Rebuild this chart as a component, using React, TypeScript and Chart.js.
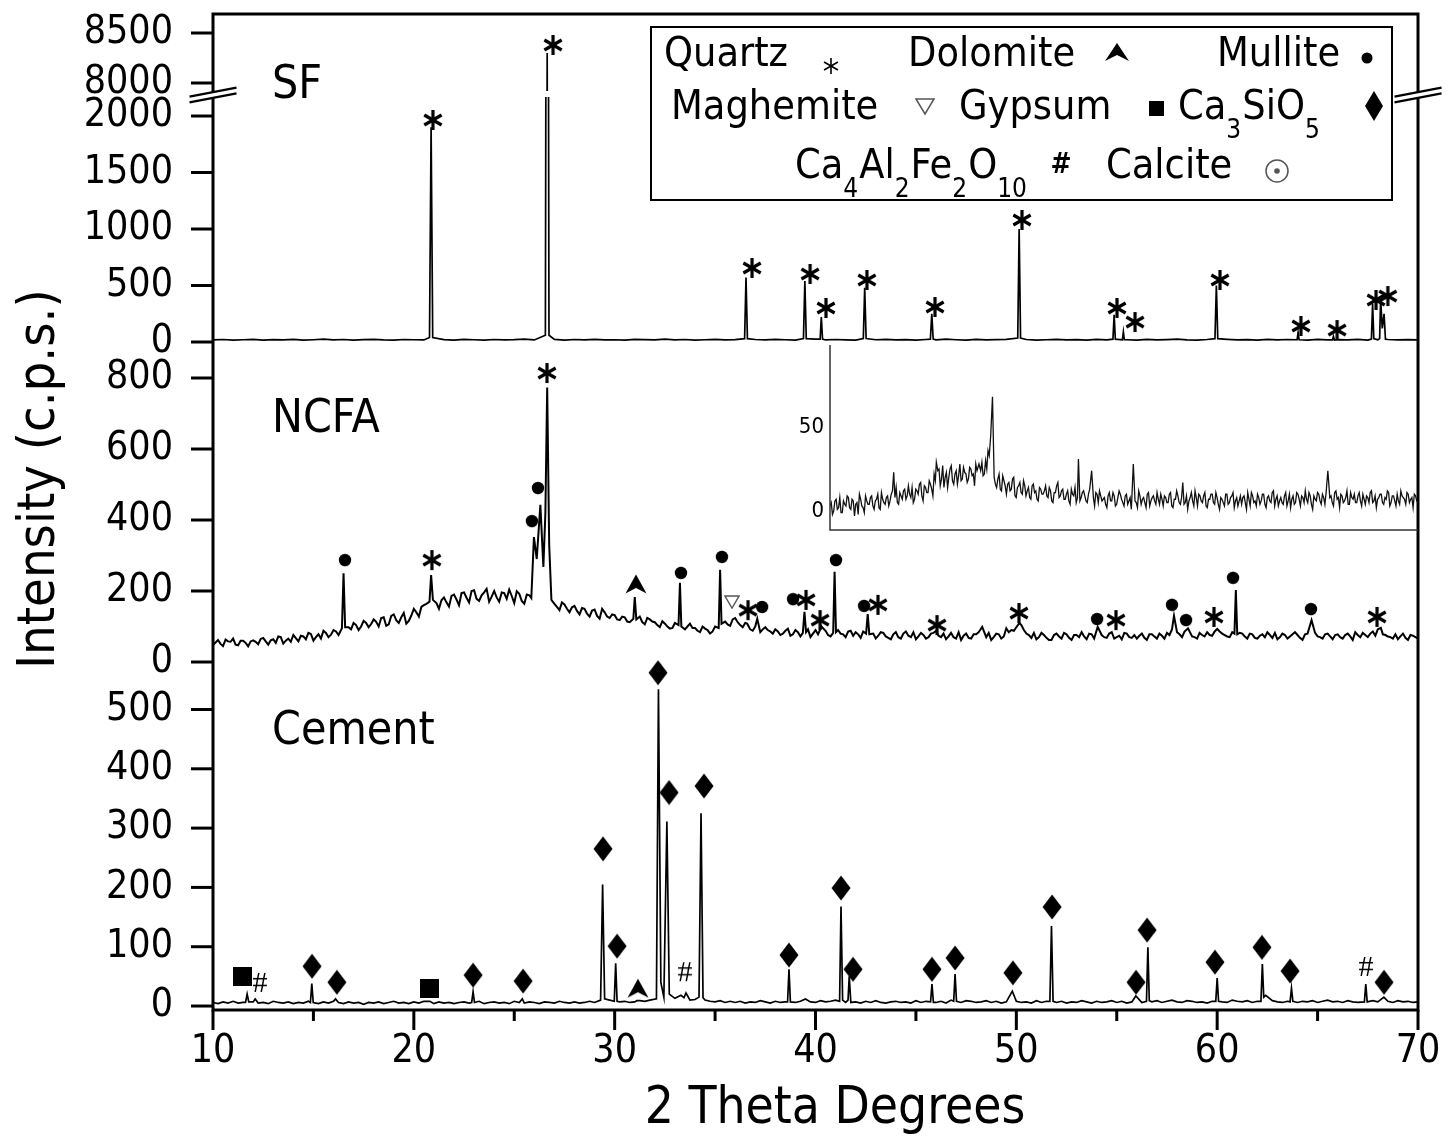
import React, { useEffect, useRef } from "react";
import { Chart, registerables } from "chart.js";

Chart.register(...registerables);

const FONT = '"DejaVu Sans Condensed", "DejaVu Sans", sans-serif';

// ---------- axes ----------
const X_MIN = 10;
const X_MAX = 70;
const X_TICKS = [10, 20, 30, 40, 50, 60, 70];
const X_MINOR = [15, 25, 35, 45, 55, 65];
const CEM_TICKS = [0, 100, 200, 300, 400, 500];
const NCFA_TICKS = [0, 200, 400, 600, 800];
const SF_LO_TICKS = [0, 500, 1000, 1500, 2000];
const SF_HI_TICKS = [8000, 8500];
const INSET_TICKS = [0, 50];

// ---------- SF (baseline every 0.5 deg from 10) ----------
const sfStep = 0.5;
const sfBase = [
  18, 22, 16, 20, 24, 17, 21, 19, 23, 16,
  20, 25, 18, 22, 17, 21, 24, 19, 16, 22,
  20, 18, 23, 21, 17, 24, 20, 16, 22, 19,
  21, 25, 18, 20, 23, 17, 22, 19, 24, 18,
  20, 16, 23, 21, 18, 25, 19, 22, 17, 20,
  24, 18, 21, 16, 22, 19, 23, 20, 17, 21,
  25, 18, 22, 19, 16, 23, 20, 24, 18, 21,
  17, 22, 19, 25, 20, 16, 23, 18, 21, 24,
  19, 22, 17, 20, 23, 18, 21, 16, 24, 19,
  22, 20, 17, 23, 18, 21, 25, 19, 16, 22,
  20, 24, 18, 21, 17, 23, 19, 22, 20, 16,
  24, 18, 21, 19, 23, 17, 20, 22, 18, 21,
  19,
];
const sfPeakX = [
  20.78, 20.86, 20.94, 26.55, 26.64, 26.73, 36.47, 36.54, 36.61, 39.4, 39.47, 39.54,
  40.23, 40.29, 40.35, 42.38, 42.45, 42.52, 45.72, 45.79, 45.86, 50.07, 50.14, 50.21,
  54.81, 54.87, 54.93, 55.28, 55.33, 55.38, 59.89, 59.96, 60.03, 63.98, 64.03, 64.08,
  65.74, 65.79, 65.84, 67.68, 67.74, 67.8, 68.09, 68.14, 68.22, 68.31, 68.38,
];
const sfPeakY = [
  40, 1900, 40, 60, 8300, 60, 30, 570, 30, 30, 540, 30,
  25, 220, 25, 30, 480, 30, 25, 250, 25, 35, 1000, 35,
  25, 240, 25, 20, 90, 20, 30, 500, 30, 20, 85, 20,
  18, 50, 18, 25, 335, 30, 30, 380, 120, 250, 25,
];
const sfStarX = [20.95, 36.84, 39.73, 40.52, 42.56, 45.95, 50.28, 55.01, 55.91, 60.14, 64.17, 65.97, 67.91, 68.5];
const sfStarY = [1965, 655, 602, 301, 549, 310, 1080, 301, 177, 549, 142, 106, 372, 407];
const sfStarTopX = [26.93];
const sfStarTopY = [8380];

// ---------- NCFA (readings every 0.25 deg from 10, and from 10.125) ----------
const ncfaStep = 0.25;
const ncfaBase = [
  48, 62, 45, 58, 66, 47, 60, 44,
  61, 50, 68, 49, 64, 72, 52, 66,
  76, 58, 72, 82, 60, 78, 88, 70,
  90, 76, 92, 98, 110, 90, 116, 98,
  120, 100, 126, 106, 134, 110, 138, 116,
  150, 128, 160, 168, 176, 150, 182, 156,
  190, 160, 196, 168, 202, 172, 196, 170,
  200, 170, 194, 204, 166, 192, 164, 188,
  180, 170, 175, 165, 164, 146, 162, 140,
  158, 134, 150, 128, 148, 122, 140, 124,
  132, 118, 126, 112, 120, 128, 106, 120,
  112, 98, 108, 94, 110, 100, 92, 108,
  96, 84, 94, 80, 100, 100, 114, 102,
  124, 104, 110, 92, 100, 84, 98, 86,
  92, 76, 88, 74, 90, 72, 86, 70,
  90, 74, 88, 72, 84, 80, 70, 88,
  84, 68, 88, 74, 66, 84, 72, 64,
  84, 66, 86, 70, 64, 82, 66, 80,
  88, 70, 64, 82, 66, 62, 80, 66,
  78, 90, 70, 62, 80, 66, 76, 90,
  98, 104, 80, 68, 64, 82, 68, 62,
  80, 66, 78, 62, 76, 84, 64, 78,
  90, 76, 68, 84, 70, 64, 80, 68,
  66, 80, 62, 78, 66, 74, 82, 92,
  84, 70, 92, 72, 66, 76, 84, 74,
  94, 80, 72, 84, 68, 80, 66, 78,
  66, 78, 84, 68, 64, 80, 66, 78,
  76, 62, 80, 90, 72, 66, 80, 64,
  78, 66, 80, 62, 76, 82, 70, 86,
  92, 78, 72, 66, 64, 80, 62, 74,
  66,
];
const ncfaBaseMid = [
  55, 51, 63, 57, 49, 60, 54, 58,
  57, 65, 58, 61, 54, 70, 60, 57,
  67, 74, 64, 79, 70, 66, 82, 77,
  86, 88, 100, 92, 104, 100, 110, 107,
  113, 124, 102, 130, 118, 126, 108, 131,
  140, 155, 164, 170, 166, 174, 168, 186,
  176, 194, 181, 200, 178, 188, 206, 184,
  182, 196, 178, 186, 199, 172, 190, 176,
  180, 175, 170, 168, 155, 168, 150, 154,
  144, 152, 136, 145, 130, 150, 128, 134,
  120, 128, 114, 132, 118, 112, 124, 114,
  104, 115, 100, 96, 112, 104, 100, 96,
  88, 100, 90, 86, 96, 108, 106, 120,
  112, 98, 106, 88, 104, 92, 90, 80,
  86, 80, 94, 78, 84, 80, 92, 80,
  78, 86, 76, 80, 90, 78, 86, 74,
  78, 86, 70, 80, 74, 82, 68, 78,
  70, 80, 74, 84, 72, 76, 70, 82,
  74, 80, 72, 70, 84, 74, 68, 78,
  84, 76, 82, 70, 78, 72, 84, 88,
  104, 90, 76, 82, 70, 76, 62, 76,
  72, 82, 68, 76, 70, 72, 80, 66,
  86, 70, 80, 66, 74, 82, 70, 76,
  74, 68, 78, 72, 80, 66, 76, 84,
  78, 86, 80, 70, 82, 72, 76, 86,
  86, 76, 70, 88, 82, 72, 80, 68,
  74, 70, 76, 82, 70, 76, 72, 84,
  68, 78, 86, 82, 70, 78, 72, 76,
  70, 76, 72, 84, 70, 76, 80, 74,
  84, 76, 70, 78, 72, 68, 76, 70,
];
const ncfaPeakX = [
  16.42, 16.5, 16.58, 20.78, 20.86, 20.95,
  25.85, 25.98, 26.12, 26.3, 26.45, 26.55, 26.64, 26.74, 26.85,
  30.93, 31.0, 31.08, 33.18, 33.25, 33.32, 35.18, 35.25, 35.32,
  36.6, 37.1, 39.37, 39.45, 39.53, 40.3, 40.88, 40.95, 41.02,
  42.52, 42.6, 42.68, 48.3, 49.5, 50.15, 54.05, 57.85, 58.55, 60.0,
  60.86, 60.93, 61.0, 64.7, 68.15,
];
const ncfaPeakY = [
  95, 250, 98, 170, 245, 175,
  180, 352, 290, 443, 268, 420, 773, 330, 175,
  122, 183, 120, 104, 223, 100, 96, 260, 108,
  108, 122, 82, 141, 84, 100, 82, 254, 84,
  80, 135, 78, 99, 95, 110, 99, 130, 95, 93,
  80, 203, 78, 118, 96,
];
const ncfaStarX = [20.9, 26.63, 36.64, 39.53, 40.23, 43.11, 46.05, 50.13, 54.96, 59.84, 67.96];
const ncfaStarY = [287, 814, 146, 175, 118, 161, 104, 138, 118, 127, 127];
const ncfaDotX = [16.57, 25.88, 26.18, 33.3, 35.34, 37.34, 38.88, 41.02, 42.42, 54.02, 57.75, 58.45, 60.79, 64.67];
const ncfaDotY = [287, 397, 490, 251, 296, 155, 177, 287, 158, 121, 161, 118, 237, 149];
const ncfaTriX = [31.06];
const ncfaTriY = [220];
const ncfaGypX = [35.84];
const ncfaGypY = [169];

// ---------- Cement (baseline every 0.25 deg from 10) ----------
const cemStep = 0.25;
const cemBase = [
  6, 4, 7, 5, 8, 5, 6, 3,
  7, 5, 6, 4, 8, 6, 5, 7,
  4, 6, 5, 8, 6, 4, 7, 5,
  8, 6, 4, 7, 5, 6, 3, 6,
  5, 7, 4, 6, 8, 5, 6, 4,
  7, 5, 8, 6, 4, 7, 5, 6,
  4, 6, 7, 5, 6, 8, 4, 6,
  7, 5, 6, 4, 8, 6, 5, 7,
  6, 4, 7, 6, 5, 8, 6, 5,
  7, 5, 6, 8, 6, 9, 7, 10,
  9, 7, 8, 6, 7, 9, 8, 10,
  12, 9, 14, 11, 13, 16, 12, 10,
  11, 9, 10, 8, 7, 9, 6, 8,
  6, 8, 5, 7, 6, 9, 7, 5,
  8, 6, 7, 10, 6, 8, 12, 7,
  6, 9, 7, 8, 10, 7, 6, 9,
  7, 5, 8, 6, 9, 6, 5, 7,
  8, 6, 7, 5, 9, 6, 8, 7,
  6, 8, 5, 10, 7, 6, 9, 8,
  6, 7, 9, 6, 8, 5, 7, 6,
  8, 6, 7, 5, 9, 6, 8, 7,
  6, 8, 5, 7, 6, 9, 7, 5,
  8, 6, 7, 9, 6, 8, 5, 7,
  10, 6, 8, 7, 9, 6, 8, 10,
  7, 6, 9, 8, 6, 7, 5, 8,
  9, 7, 6, 10, 8, 7, 9, 6,
  8, 10, 14, 9, 7, 6, 8, 7,
  6, 8, 7, 9, 6, 8, 10, 7,
  8, 6, 9, 7, 6, 8, 7, 9,
  7, 10, 8, 6, 9, 7, 8, 6,
  7,
];
const cemPeakX = [
  11.62, 11.7, 11.78, 12.1, 14.85, 14.92, 14.99, 16.1, 20.8, 22.88, 22.95, 23.02, 25.4,
  29.3, 29.4, 29.5, 29.98, 30.05, 30.12, 31.1,
  32.08, 32.18, 32.3, 32.45, 32.6, 32.72, 33.3, 33.45, 33.55, 34.2, 34.3, 34.4,
  38.61, 38.68, 38.75, 41.2, 41.27, 41.35, 41.62, 41.68, 41.76, 45.73, 45.8, 45.87,
  46.88, 46.95, 47.02, 49.8, 51.67, 51.75, 51.83, 55.95, 56.48, 56.55, 56.62,
  59.93, 60.0, 60.07, 62.18, 62.25, 62.32, 62.42, 63.63, 63.7, 63.77, 67.33, 67.4, 67.47, 68.3,
];
const cemPeakY = [
  6, 20, 7, 12, 6, 38, 6, 12, 8, 6, 24, 6, 12,
  10, 205, 12, 8, 72, 8, 9,
  12, 534, 40, 15, 311, 20, 18, 14, 22, 15, 325, 14,
  7, 62, 7, 8, 168, 10, 10, 50, 6, 7, 37, 6,
  8, 54, 8, 25, 8, 135, 8, 17, 8, 99, 9,
  8, 47, 8, 8, 71, 15, 18, 7, 30, 8, 7, 37, 7, 15,
];
const cemDiaX = [14.93, 16.17, 22.95, 25.44, 29.42, 30.12, 32.16, 32.71, 34.45, 38.68, 41.27, 41.87, 45.8, 46.95, 49.83, 51.78, 55.96, 56.51, 59.89, 62.23, 63.63, 68.31];
const cemDiaY = [67, 40, 52, 42, 265, 101, 562, 360, 371, 86, 199, 62, 62, 81, 56, 167, 40, 128, 74, 99, 59, 40];
const cemSqX = [11.49, 20.8];
const cemSqY = [49, 29];
const cemHashX = [12.34, 33.5, 67.41];
const cemHashY = [39, 57, 66];
const cemTriX = [31.16];
const cemTriY = [30];

// ---------- Inset (readings every 0.25 deg from 10, and from 10.125) ----------
const insetStep = 0.25;
const insetBase = [
  3, -2, 6, 1, 8, -1, 4, 9,
  2, 7, -3, 5, 10, 3, -1, 6,
  4, 9, 1, 7, 2, 11, 5, 8,
  3, 10, 6, 14, 4, 9, 12, 7,
  15, 8, 5, 13, 10, 17, 6, 14,
  11, 16, 9, 18, 24, 15, 27, 20,
  14, 25, 18, 22, 16, 28, 19, 23,
  17, 26, 21, 15, 24, 19, 29, 22,
  25, 33, 42, 20, 14, 22, 12, 18,
  10, 17, 13, 20, 8, 15, 11, 18,
  9, 14, 7, 16, 12, 6, 13, 10,
  15, 8, 12, 5, 11, 17, 9, 13,
  7, 12, 4, 10, 14, 8, 6, 11,
  9, 5, 13, 7, 3, 10, 12, 6,
  8, 2, 11, 6, 9, 4, 12, 7,
  3, 10, 6, 1, 9, 5, 12, 4,
  8, 2, 11, 6, 9, 4, 7, 10,
  3, 8, 5, 11, 2, 7, 9, 4,
  10, 5, 1, 8, 6, 12, 3, 9,
  5, 11, 2, 7, 10, 4, 8, 1,
  7, 3, 10, 5, 9, 2, 8, 6,
  4, 9, 1, 7, 11, 5, 3, 8,
  6, 10, 2, 9, 5, 12, 7, 3,
  8, 4, 11, 6, 2, 9, 5, 10,
  3, 8, 12, 5, 9, 1, 7, 11,
  6, 10, 4, 13, 8, 5, 11, 7,
  2, 9, 6, 12, 4, 8, 10, 5,
  11, 3, 7, 9, 5, 12, 6, 2,
  8, 10, 4, 7, 11, 5, 9, 3,
  6, 12, 8, 4, 10, 7, 2, 9,
  5,
];
const insetBaseMid = [
  5, 0, 7, 2, -1, 6, 3, 8,
  1, 6, 4, -2, 7, 2, 9, 4,
  8, 3, 6, 10, 1, 7, 4, 9,
  6, 12, 8, 5, 11, 7, 13, 9,
  10, 14, 7, 12, 16, 9, 15, 11,
  18, 13, 22, 17, 25, 19, 14, 23,
  20, 27, 16, 24, 21, 18, 26, 22,
  19, 25, 22, 28, 18, 24, 21, 30,
  36, 28, 50, 16, 19, 13, 21, 15,
  16, 12, 19, 9, 14, 17, 10, 15,
  12, 8, 15, 11, 7, 14, 10, 12,
  9, 14, 6, 11, 15, 8, 12, 7,
  10, 6, 13, 9, 5, 11, 8, 12,
  6, 10, 4, 8, 11, 5, 9, 7,
  4, 9, 6, 11, 3, 8, 10, 5,
  9, 4, 8, 11, 6, 2, 9, 7,
  5, 10, 3, 8, 6, 11, 4, 7,
  9, 5, 10, 3, 7, 12, 5, 8,
  4, 9, 6, 11, 3, 8, 10, 6,
  9, 3, 7, 10, 5, 11, 4, 8,
  5, 10, 4, 8, 11, 6, 3, 9,
  8, 5, 11, 3, 9, 6, 10, 4,
  10, 4, 8, 6, 11, 3, 9, 6,
  5, 9, 3, 10, 7, 4, 11, 7,
  9, 5, 7, 11, 4, 9, 6, 10,
  4, 8, 11, 6, 9, 3, 12, 8,
  10, 5, 8, 4, 11, 7, 5, 9,
  6, 10, 4, 8, 11, 5, 9, 7,
  10, 5, 8, 12, 3, 9, 6, 10,
  4, 9, 7, 11, 5, 8, 10, 6,
];
const insetPeakX = [16.5, 20.85, 25.2, 26.4, 26.58, 35.35, 36.7, 40.95, 46.0, 60.8];
const insetPeakY = [23, 29, 28, 45, 68, 31, 24, 28, 17, 24];

// ---------- helpers ----------
type Part = { vals: number[]; start: number; step: number };
function series(parts: Part[], px: number[], py: number[]) {
  const pts: { x: number; y: number }[] = [];
  for (const part of parts) {
    part.vals.forEach((v, i) => {
      const x = part.start + i * part.step;
      for (const p of px) if (Math.abs(p - x) < 0.085) return;
      pts.push({ x, y: v });
    });
  }
  px.forEach((x, i) => pts.push({ x, y: py[i] }));
  pts.sort((a, b) => a.x - b.x);
  return pts;
}
const pairs = (xs: number[], ys: number[]) => xs.map((x, i) => ({ x, y: ys[i] }));

function poly(g: CanvasRenderingContext2D, p: number[][], fill = true) {
  g.beginPath();
  g.moveTo(p[0][0], p[0][1]);
  for (let i = 1; i < p.length; i++) g.lineTo(p[i][0], p[i][1]);
  g.closePath();
  if (fill) g.fill();
  else g.stroke();
}

function makeGlyph(kind: string): HTMLCanvasElement {
  const dims: any = {
    star: [24, 24], dot: [14, 14], diamond: [20, 26], square: [19, 19],
    tri: [22, 20], gyp: [16, 14], hash: [20, 26],
  };
  const c = document.createElement("canvas");
  c.width = dims[kind][0];
  c.height = dims[kind][1];
  const g = c.getContext("2d") as CanvasRenderingContext2D;
  g.fillStyle = "#000";
  g.strokeStyle = "#000";
  if (kind === "star") {
    g.lineWidth = 3.2;
    for (const a of [90, 30, 150]) {
      const r = (a * Math.PI) / 180;
      g.beginPath();
      g.moveTo(12 - 10 * Math.cos(r), 12 - 10 * Math.sin(r));
      g.lineTo(12 + 10 * Math.cos(r), 12 + 10 * Math.sin(r));
      g.stroke();
    }
  } else if (kind === "dot") {
    g.beginPath();
    g.arc(7, 7, 6.2, 0, Math.PI * 2);
    g.fill();
  } else if (kind === "diamond") {
    poly(g, [[10, 0.5], [19.5, 13], [10, 25.5], [0.5, 13]]);
  } else if (kind === "square") {
    g.fillRect(0, 0, 19, 19);
  } else if (kind === "tri") {
    poly(g, [[11, 0.5], [21.5, 19.5], [11, 14], [0.5, 19.5]]);
  } else if (kind === "gyp") {
    g.strokeStyle = "#555";
    g.lineWidth = 1.4;
    poly(g, [[1, 1], [15, 1], [8, 13]], false);
  } else if (kind === "hash") {
    g.font = '30px "Liberation Serif", serif';
    g.textAlign = "center";
    g.textBaseline = "middle";
    g.fillText("#", 10, 14);
  }
  return c;
}

const panelClip = {
  id: "panelClip",
  beforeDatasetDraw(chart: any, args: any) {
    const ds = chart.data.datasets[args.index];
    const ctx = chart.ctx;
    ctx.save();
    if (ds.noPanelClip) return;
    const ys = args.meta.yScale;
    const t = ys.top + (ds.gapTop || 0);
    const b = ys.bottom - (ds.gapBottom || 0);
    ctx.beginPath();
    ctx.rect(chart.chartArea.left, t, chart.chartArea.right - chart.chartArea.left, b - t);
    ctx.clip();
  },
  afterDatasetDraw(chart: any) {
    chart.ctx.restore();
  },
};

function drawAsteriskThin(ctx: CanvasRenderingContext2D, cx: number, cy: number) {
  ctx.lineWidth = 1.6;
  for (const a of [90, 30, 150]) {
    const r = (a * Math.PI) / 180;
    ctx.beginPath();
    ctx.moveTo(cx - 8 * Math.cos(r), cy - 8 * Math.sin(r));
    ctx.lineTo(cx + 8 * Math.cos(r), cy + 8 * Math.sin(r));
    ctx.stroke();
  }
}

function drawRich(ctx: CanvasRenderingContext2D, parts: [string, boolean][], x: number, y: number) {
  let cx = x;
  for (const [t, sub] of parts) {
    ctx.font = `${sub ? 26 : 41}px ${FONT}`;
    ctx.fillText(t, cx, sub ? y + 23 : y);
    cx += ctx.measureText(t).width + (sub ? 1 : 0);
  }
}

function drawLegend(ctx: CanvasRenderingContext2D) {
  ctx.save();
  ctx.fillStyle = "#fff";
  ctx.fillRect(651, 27, 741, 173);
  ctx.strokeStyle = "#000";
  ctx.lineWidth = 2;
  ctx.strokeRect(651, 27, 741, 173);
  ctx.fillStyle = "#000";
  ctx.textAlign = "left";
  ctx.textBaseline = "middle";
  ctx.font = `41px ${FONT}`;
  // row 1
  ctx.fillText("Quartz", 664, 55);
  drawAsteriskThin(ctx, 831, 66);
  ctx.fillText("Dolomite", 908, 55);
  poly(ctx, [[1117, 43], [1129, 61], [1117, 55], [1105, 61]]);
  ctx.fillText("Mullite", 1217, 55);
  ctx.beginPath();
  ctx.arc(1367, 58, 5.5, 0, Math.PI * 2);
  ctx.fill();
  // row 2
  ctx.fillText("Maghemite", 671, 108);
  ctx.strokeStyle = "#555";
  ctx.lineWidth = 1.5;
  poly(ctx, [[916, 99], [934, 99], [925, 114]], false);
  ctx.strokeStyle = "#000";
  ctx.fillText("Gypsum", 959, 108);
  ctx.fillRect(1149, 101, 15, 15);
  drawRich(ctx, [["Ca", false], ["3", true], ["SiO", false], ["5", true]], 1178, 108);
  poly(ctx, [[1374, 91], [1383, 106], [1374, 121], [1365, 106]]);
  // row 3
  drawRich(ctx, [["Ca", false], ["4", true], ["Al", false], ["2", true], ["Fe", false], ["2", true], ["O", false], ["10", true]], 795, 167);
  ctx.font = `bold 28px ${FONT}`;
  ctx.textAlign = "center";
  ctx.fillText("#", 1061, 166);
  ctx.textAlign = "left";
  ctx.font = `41px ${FONT}`;
  ctx.fillText("Calcite", 1106, 167);
  ctx.strokeStyle = "#555";
  ctx.fillStyle = "#555";
  ctx.lineWidth = 1.5;
  ctx.beginPath();
  ctx.arc(1277, 171, 11, 0, Math.PI * 2);
  ctx.stroke();
  ctx.beginPath();
  ctx.arc(1277, 171, 2.8, 0, Math.PI * 2);
  ctx.fill();
  ctx.restore();
}

function drawBreak(ctx: CanvasRenderingContext2D, cx: number, cy: number) {
  const hl = 23.5, rise = 4.5, sep = 2.8;
  ctx.save();
  ctx.fillStyle = "#fff";
  poly(ctx, [
    [cx - hl, cy + rise - sep], [cx + hl, cy - rise - sep],
    [cx + hl, cy - rise + sep], [cx - hl, cy + rise + sep],
  ]);
  ctx.strokeStyle = "#000";
  ctx.lineWidth = 2.2;
  for (const s of [-sep, sep]) {
    ctx.beginPath();
    ctx.moveTo(cx - hl, cy + rise + s);
    ctx.lineTo(cx + hl, cy - rise + s);
    ctx.stroke();
  }
  ctx.restore();
}

const decor = {
  id: "decor",
  afterDraw(chart: any) {
    const { ctx, chartArea: a, scales } = chart;
    const L = a.left, R = a.right, T = a.top, B = a.bottom;
    const line = (x1: number, y1: number, x2: number, y2: number) => {
      ctx.beginPath();
      ctx.moveTo(x1, y1);
      ctx.lineTo(x2, y2);
      ctx.stroke();
    };
    ctx.save();
    ctx.strokeStyle = "#000";
    ctx.fillStyle = "#000";
    ctx.lineWidth = 3;
    ctx.strokeRect(L, T, R - L, B - T);
    for (const id of ["yC", "yN", "ySFlo", "ySFhi"]) {
      const s = scales[id];
      for (const t of s.ticks) {
        const y = s.getPixelForValue(t.value);
        line(L - 22, y, L, y);
      }
    }
    const xs = scales.x;
    for (const v of X_TICKS) {
      const x = xs.getPixelForValue(v);
      line(x, B, x, B + 20);
    }
    for (const v of X_MINOR) {
      const x = xs.getPixelForValue(v);
      line(x, B, x, B + 11);
    }
    const yb = scales.ySFlo.top;
    drawBreak(ctx, L, yb);
    drawBreak(ctx, R, yb);

    // panel labels
    ctx.textAlign = "left";
    ctx.textBaseline = "middle";
    ctx.font = `46px ${FONT}`;
    ctx.fillText("SF", 272, 86);
    ctx.fillText("NCFA", 272, 420);
    ctx.fillText("Cement", 272, 732);

    // axis titles
    ctx.font = `51px ${FONT}`;
    ctx.textAlign = "center";
    ctx.fillText("2 Theta Degrees", 835, 1110);
    ctx.save();
    ctx.translate(40, 479);
    ctx.rotate(-Math.PI / 2);
    ctx.font = `52px ${FONT}`;
    ctx.fillText("Intensity (c.p.s.)", 0, 0);
    ctx.restore();

    ctx.restore();
    drawLegend(ctx);
  },
};

const insetFrame = {
  id: "insetFrame",
  afterDraw(chart: any) {
    const { ctx, chartArea: a } = chart;
    ctx.save();
    ctx.strokeStyle = "#333";
    ctx.lineWidth = 1.5;
    ctx.beginPath();
    ctx.moveTo(a.left, a.top);
    ctx.lineTo(a.left, a.bottom);
    ctx.lineTo(a.right, a.bottom);
    ctx.stroke();
    ctx.restore();
  },
};

const zeroPad = (s: any) => {
  s.paddingTop = 0;
  s.paddingBottom = 0;
  s.paddingLeft = 0;
  s.paddingRight = 0;
};

function yAxis(min: number, max: number, weight: number, ticks: number[]) {
  return {
    type: "linear",
    position: "left",
    stack: "panels",
    stackWeight: weight,
    min,
    max,
    offset: false,
    grid: { display: false, drawTicks: false },
    border: { display: false },
    ticks: {
      font: { size: 39 },
      color: "#000",
      padding: 40,
      autoSkip: false,
      callback: (v: any) => String(v),
    },
    afterBuildTicks: (s: any) => {
      s.ticks = ticks.map((v) => ({ value: v }));
    },
    afterFit: (s: any) => {
      s.width = 213;
      zeroPad(s);
    },
  };
}

export default function App() {
  const mainRef = useRef<HTMLCanvasElement>(null);
  const insetRef = useRef<HTMLCanvasElement>(null);

  useEffect(() => {
    Chart.defaults.font.family = FONT;
    Chart.defaults.color = "#000";
    const G = {
      star: makeGlyph("star"), dot: makeGlyph("dot"), diamond: makeGlyph("diamond"),
      square: makeGlyph("square"), tri: makeGlyph("tri"), gyp: makeGlyph("gyp"), hash: makeGlyph("hash"),
    };
    const lineDs = (data: any, axis: string, extra: any = {}) => ({
      data, yAxisID: axis, showLine: true, borderColor: "#000", borderWidth: 1.7,
      pointRadius: 0, pointHoverRadius: 0, tension: 0, ...extra,
    });
    const markDs = (xs: number[], ys: number[], axis: string, glyph: any) => ({
      data: pairs(xs, ys), yAxisID: axis, showLine: false, pointStyle: glyph,
      pointRadius: 10, pointHoverRadius: 10, borderWidth: 0, clip: false, noPanelClip: true,
    });
    const sfData = series([{ vals: sfBase, start: X_MIN, step: sfStep }], sfPeakX, sfPeakY);
    const ncfaData = series(
      [
        { vals: ncfaBase, start: X_MIN, step: ncfaStep },
        { vals: ncfaBaseMid, start: X_MIN + ncfaStep / 2, step: ncfaStep },
      ],
      ncfaPeakX,
      ncfaPeakY
    );
    const cemData = series([{ vals: cemBase, start: X_MIN, step: cemStep }], cemPeakX, cemPeakY);
    const insetData = series(
      [
        { vals: insetBase, start: X_MIN, step: insetStep },
        { vals: insetBaseMid, start: X_MIN + insetStep / 2, step: insetStep },
      ],
      insetPeakX,
      insetPeakY
    );

    const main = new Chart(mainRef.current as HTMLCanvasElement, {
      type: "scatter",
      data: {
        datasets: [
          lineDs(cemData, "yC"),
          lineDs(ncfaData, "yN", { borderWidth: 2 }),
          lineDs(sfData, "ySFlo", { gapTop: 2 }),
          lineDs(sfData, "ySFhi", { gapBottom: 4 }),
          markDs(sfStarX, sfStarY, "ySFlo", G.star),
          markDs(sfStarTopX, sfStarTopY, "ySFhi", G.star),
          markDs(ncfaStarX, ncfaStarY, "yN", G.star),
          markDs(ncfaDotX, ncfaDotY, "yN", G.dot),
          markDs(ncfaTriX, ncfaTriY, "yN", G.tri),
          markDs(ncfaGypX, ncfaGypY, "yN", G.gyp),
          markDs(cemDiaX, cemDiaY, "yC", G.diamond),
          markDs(cemSqX, cemSqY, "yC", G.square),
          markDs(cemHashX, cemHashY, "yC", G.hash),
          markDs(cemTriX, cemTriY, "yC", G.tri),
        ] as any,
      },
      options: {
        responsive: false,
        animation: false,
        devicePixelRatio: 1,
        events: [],
        layout: { padding: { left: 0, right: 28, top: 14, bottom: 0 } },
        plugins: { legend: { display: false }, tooltip: { enabled: false } },
        scales: {
          x: {
            type: "linear",
            position: "bottom",
            min: X_MIN,
            max: X_MAX,
            grid: { display: false, drawTicks: false },
            border: { display: false },
            ticks: { font: { size: 39 }, color: "#000", padding: 18, autoSkip: false, maxRotation: 0, callback: (v: any) => String(v) },
            afterBuildTicks: (s: any) => {
              s.ticks = X_TICKS.map((v) => ({ value: v }));
            },
            afterFit: (s: any) => {
              s.height = 128;
              zeroPad(s);
            },
          },
          yC: yAxis(-6.7, 578.4, 347, CEM_TICKS),
          yN: yAxis(-2.8, 898.6, 320, NCFA_TICKS),
          ySFlo: yAxis(-8.8, 2186, 248, SF_LO_TICKS),
          ySFhi: yAxis(7880, 8690, 81, SF_HI_TICKS),
        } as any,
      },
      plugins: [panelClip, decor],
    } as any);

    const inset = new Chart(insetRef.current as HTMLCanvasElement, {
      type: "scatter",
      data: {
        datasets: [
          { data: insetData, showLine: true, borderColor: "#111", borderWidth: 1.3, pointRadius: 0, pointHoverRadius: 0, tension: 0 },
        ],
      },
      options: {
        responsive: false,
        animation: false,
        devicePixelRatio: 1,
        events: [],
        layout: { padding: { top: 5, bottom: 10, left: 0, right: 12 } },
        plugins: { legend: { display: false }, tooltip: { enabled: false } },
        scales: {
          x: { type: "linear", min: X_MIN, max: X_MAX, display: false },
          y: {
            type: "linear",
            min: -11.3,
            max: 98.8,
            grid: { display: false, drawTicks: false },
            border: { display: false },
            ticks: { font: { size: 22 }, color: "#000", padding: 6, callback: (v: any) => String(v) },
            afterBuildTicks: (s: any) => {
              s.ticks = INSET_TICKS.map((v) => ({ value: v }));
            },
            afterFit: (s: any) => {
              s.width = 60;
              zeroPad(s);
            },
          },
        },
      },
      plugins: [insetFrame],
    } as any);

    return () => {
      main.destroy();
      inset.destroy();
    };
  }, []);

  return (
    <div style={{ position: "fixed", left: 0, top: 0, width: 1446, height: 1138, background: "#fff" }}>
      <canvas ref={mainRef} width={1446} height={1138} style={{ position: "absolute", left: 0, top: 0 }} />
      <canvas ref={insetRef} width={660} height={200} style={{ position: "absolute", left: 770, top: 340 }} />
    </div>
  );
}
